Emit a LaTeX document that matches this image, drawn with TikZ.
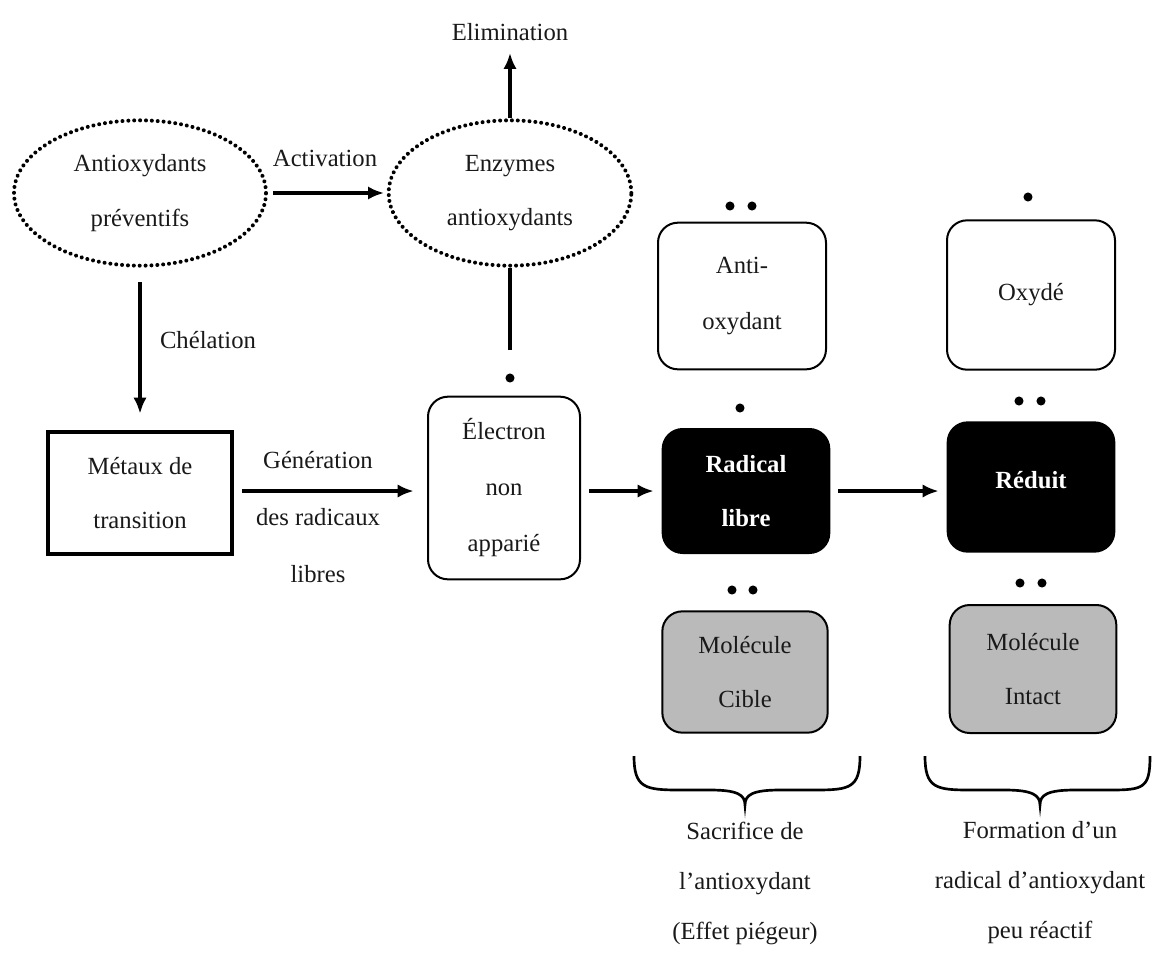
\documentclass[tikz,border=0pt]{standalone}
\usepackage{fontspec}
\setmainfont{Liberation Serif}
\usetikzlibrary{arrows.meta,calc,shapes.geometric}
\begin{document}
\begin{tikzpicture}[x=0.75pt,y=-0.75pt,
  every node/.style={font=\fontsize{18.5}{22}\selectfont,text=black!90},
  txt/.style={align=center,inner sep=0pt},
  ell/.style={ellipse,draw,line width=3pt,dash pattern=on 0.01pt off 4.4pt,line cap=round,inner sep=0pt,align=center,font=\fontsize{18.5}{41}\selectfont},
  wbox/.style={draw,line width=1.5pt,rounded corners=15pt,align=center,inner sep=0pt,font=\fontsize{18.5}{42}\selectfont},
  bbox/.style={draw,fill=black,line width=1.5pt,rounded corners=15pt,align=center,inner sep=0pt,text=white,font=\fontsize{18.5}{40}\selectfont\bfseries},
  gbox/.style={draw,fill=black!27,line width=1.5pt,rounded corners=15pt,align=center,inner sep=0pt,font=\fontsize{18.5}{40}\selectfont},
  arr/.style={line width=2.6pt,-{Latex[length=12pt,width=10pt]}},
  ln/.style={line width=2.6pt},
  dot/.style={fill=black}
]
\useasboundingbox (0,0) rectangle (1157,961);

% ellipses
\node[ell,minimum width=189pt,minimum height=109pt] (e1) at (140,193) {Antioxydants\\préventifs};
\node[ell,minimum width=182pt,minimum height=109pt] (e2) at (510,193) {Enzymes\\antioxydants};
\node[txt] (elim) at (510,32) {Elimination};
\node[txt] (act) at (325,158) {Activation};
\node[txt] (chel) at (208,340) {Chélation};

% left boxes
\node[draw,line width=3pt,minimum width=138pt,minimum height=92pt,align=center,inner sep=0pt,font=\fontsize{18.5}{40}\selectfont] (m) at (140,493) {Métaux de\\transition};
\node[txt,font=\fontsize{18.5}{43}\selectfont] (gen) at (318,517) {Génération\\des radicaux\\libres};
\node[wbox,minimum width=114pt,minimum height=137pt] (el) at (504,488) {Électron\\non\\apparié};

% right column boxes
\node[wbox,minimum width=126pt,minimum height=110pt] (ao) at (742,296) {Anti-\\oxydant};
\node[wbox,minimum width=126pt,minimum height=112pt] (ox) at (1031,295) {Oxydé};
\node[bbox,minimum width=125pt,minimum height=93pt] (rl) at (746,491) {Radical\\libre};
\node[bbox,minimum width=125pt,minimum height=97pt,text depth=10pt] (rd) at (1031,487) {Réduit};
\node[gbox,minimum width=124pt,minimum height=91pt] (mc) at (745,672) {Molécule\\Cible};
\node[gbox,minimum width=125pt,minimum height=96pt] (mi) at (1033,669) {Molécule\\Intact};

% connectors
\draw[arr,shorten <=4pt,shorten >=2pt] (e1) -- (e2);
\draw[arr,shorten >=9pt] (e2.north) -- (elim.south);
\draw[arr,shorten <=11pt,shorten >=12pt] (e1.south) -- (m.north);
\draw[arr,shorten <=6pt,shorten >=10pt] (m.east |- rl.center) -- (el.west |- rl.center);
\draw[ln] (e2.south) -- ++(0,82) coordinate (eend);
\draw[arr,shorten <=6pt,shorten >=6pt] (el.east |- rl.center) -- (rl.west);
\draw[arr,shorten <=6pt,shorten >=6pt] (rl.east) -- (rd.west |- rl.center);

% electron dots
\fill[dot] (510,378) circle[radius=3.4pt];
\fill[dot] (730,206) circle[radius=3.4pt];
\fill[dot] (752,206) circle[radius=3.4pt];
\fill[dot] (1028,197) circle[radius=3.4pt];
\fill[dot] (740,408) circle[radius=3.4pt];
\fill[dot] (1019,401) circle[radius=3.4pt];
\fill[dot] (1041,401) circle[radius=3.4pt];
\fill[dot] (732,590) circle[radius=3.4pt];
\fill[dot] (753,590) circle[radius=3.4pt];
\fill[dot] (1020,583) circle[radius=3.4pt];
\fill[dot] (1042,583) circle[radius=3.4pt];

% braces
\draw[line width=2pt] (634,756) .. controls (634,788) and (645,790) .. (680,790) -- (710,790) .. controls (738,790) and (745,795) .. (745,805)
  .. controls (745,795) and (752,790) .. (780,790) -- (815,790) .. controls (850,790) and (860,788) .. (860,756);
\draw[line width=2pt] (925,756) .. controls (925,788) and (936,790) .. (970,790) -- (1005,790) .. controls (1032,790) and (1040,795) .. (1040,805)
  .. controls (1040,795) and (1047,790) .. (1075,790) -- (1110,790) .. controls (1144,790) and (1150,788) .. (1150,756);

\node[txt,font=\fontsize{18.5}{37.5}\selectfont] (t1) at (745,883) {Sacrifice de\\l'antioxydant\\(Effet piégeur)};
\node[txt,font=\fontsize{18.5}{37.5}\selectfont] (t2) at (1040,883) {Formation d'un\\radical d'antioxydant\\peu réactif};
\end{tikzpicture}
\end{document}
